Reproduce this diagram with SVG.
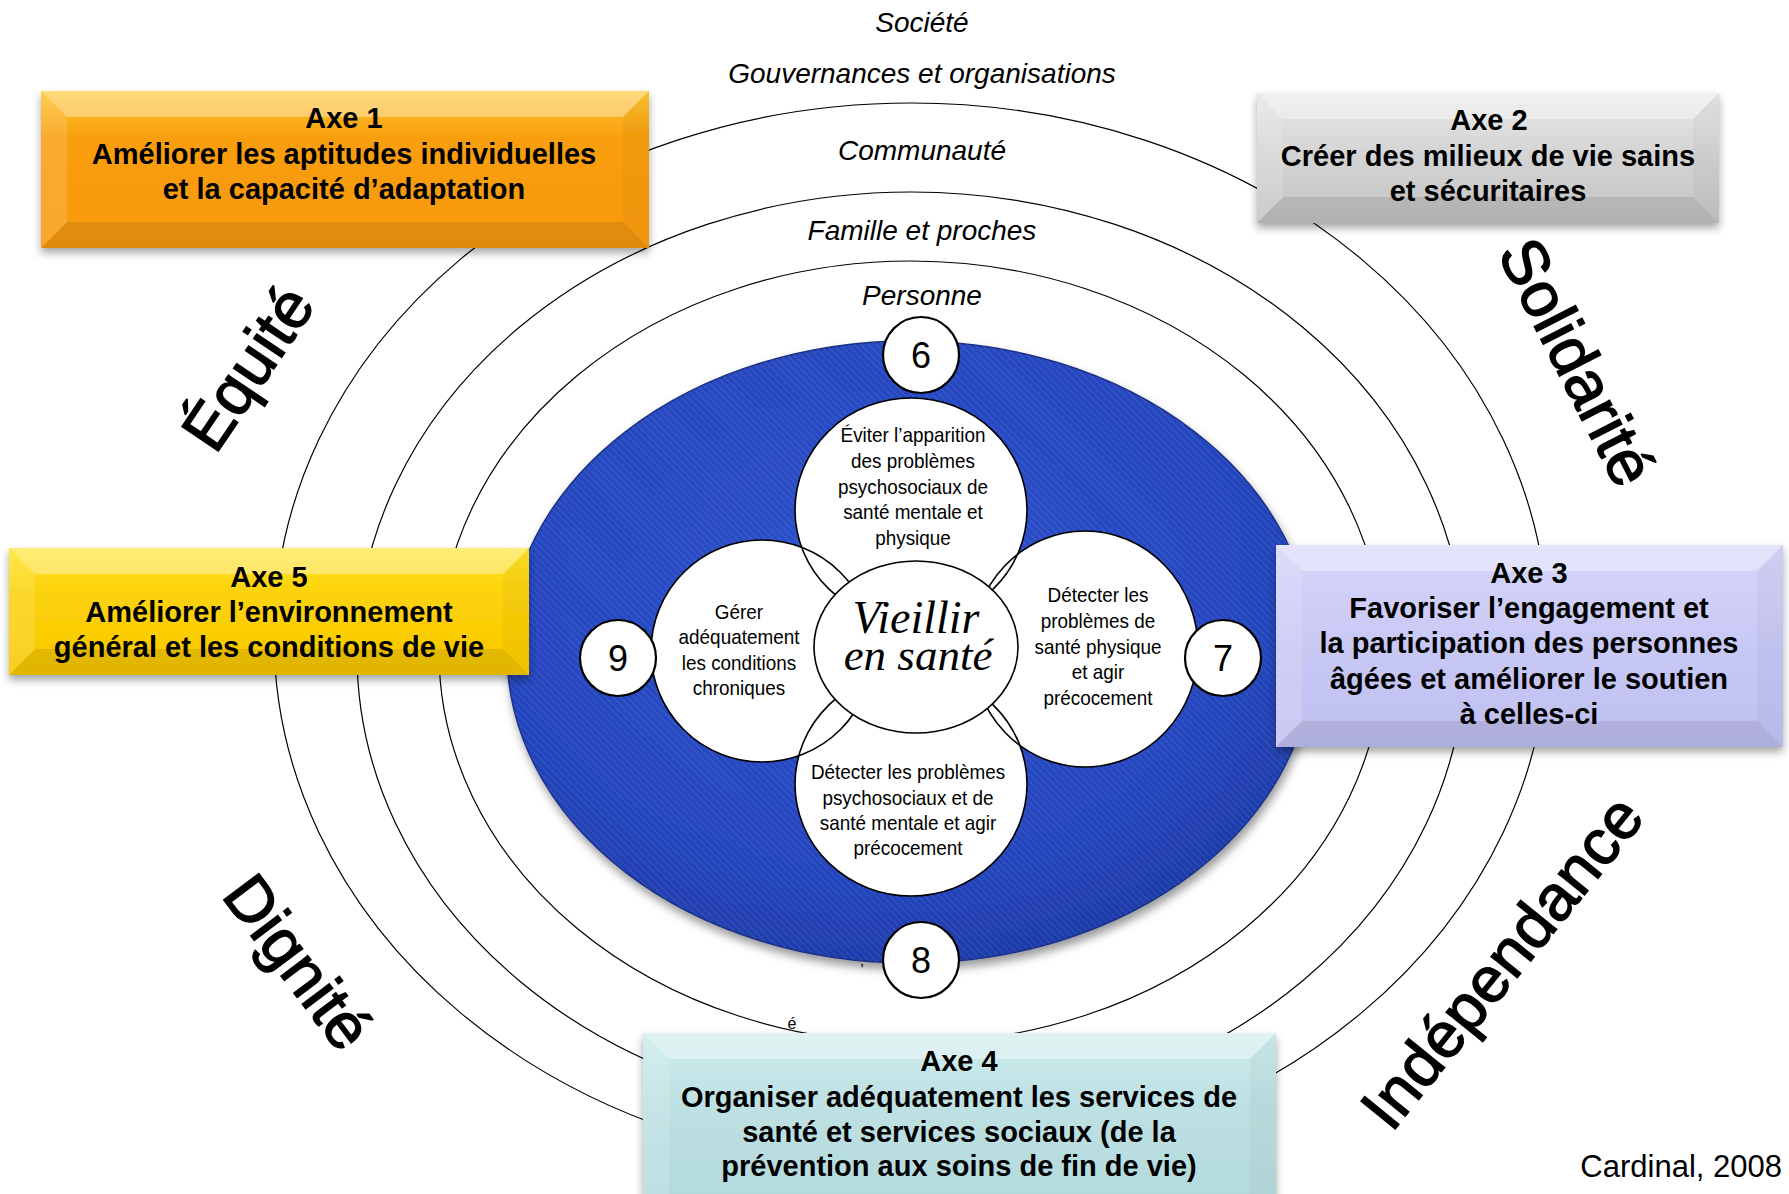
<svg xmlns="http://www.w3.org/2000/svg" width="1789" height="1194" viewBox="0 0 1789 1194">
<defs>
<style>
.ring{fill:none;stroke:#000;stroke-width:1.2}
.axe{font-family:"Liberation Sans",Arial,sans-serif;font-weight:bold;font-size:29px;text-anchor:middle;fill:#000}
.lvl{font-family:"Liberation Sans",Arial,sans-serif;font-style:italic;font-size:28px;text-anchor:middle;fill:#000}
.pt{font-family:"Liberation Sans",Arial,sans-serif;font-size:21px;text-anchor:middle;fill:#000}
.num{font-family:"Liberation Sans",Arial,sans-serif;font-size:36px;text-anchor:middle;fill:#000}
.big{font-family:"Liberation Sans",Arial,sans-serif;font-size:64px;text-anchor:middle;fill:#000;stroke:#000;stroke-width:1.4}
.petal{fill:#fff}
.pstroke{fill:none;stroke:#000;stroke-width:1.6}
.ncirc{fill:#fff;stroke:#000;stroke-width:2.2}
.bt{fill:#fff;opacity:.35}
.bl{fill:#fff;opacity:.14}
.br{fill:#000;opacity:.03}
.bb{fill:#000;opacity:.09}
</style>
<filter id="shadow" x="-5%" y="-10%" width="110%" height="140%"><feDropShadow dx="0" dy="5" stdDeviation="4" flood-color="#000" flood-opacity="0.35"/></filter>
<filter id="bshadow" x="-10%" y="-10%" width="120%" height="125%"><feDropShadow dx="2" dy="6" stdDeviation="5" flood-color="#000" flood-opacity="0.4"/></filter>
<pattern id="stripes" width="5" height="5" patternUnits="userSpaceOnUse" patternTransform="rotate(-45)"><line x1="0" y1="0" x2="0" y2="5" stroke="#ffffff" stroke-opacity="0.12" stroke-width="1.5"/></pattern>
<radialGradient id="blueGrad" cx="0.45" cy="0.38" r="0.65"><stop offset="0" stop-color="#2d52cc"/><stop offset="0.75" stop-color="#2445bd"/><stop offset="1" stop-color="#1d3ba6"/></radialGradient>
<linearGradient id="g1" x1="0" y1="0" x2="0" y2="1"><stop offset="0" stop-color="#FEC634"/><stop offset="0.3" stop-color="#F99E0E"/><stop offset="1" stop-color="#F7990B"/></linearGradient>
<linearGradient id="g2" x1="0" y1="0" x2="0" y2="1"><stop offset="0" stop-color="#E8E8E8"/><stop offset="0.5" stop-color="#D3D3D3"/><stop offset="1" stop-color="#C3C3C3"/></linearGradient>
<linearGradient id="g3" x1="0" y1="0" x2="0" y2="1"><stop offset="0" stop-color="#D6D6FA"/><stop offset="0.5" stop-color="#C8C8F5"/><stop offset="1" stop-color="#C0C0F0"/></linearGradient>
<linearGradient id="g4" x1="0" y1="0" x2="0" y2="1"><stop offset="0" stop-color="#CFECED"/><stop offset="0.4" stop-color="#BEE1E3"/><stop offset="1" stop-color="#B3D9DC"/></linearGradient>
<linearGradient id="g5" x1="0" y1="0" x2="0" y2="1"><stop offset="0" stop-color="#FFE42C"/><stop offset="0.35" stop-color="#FCD20A"/><stop offset="1" stop-color="#F8C800"/></linearGradient>
</defs>
<rect width="1789" height="1194" fill="#fff"/>

<g id="rings">
<ellipse class="ring" cx="911" cy="636" rx="637" ry="533"/>
<ellipse class="ring" cx="911" cy="654" rx="554" ry="462"/>
<ellipse class="ring" cx="911" cy="652" rx="472" ry="391"/>
</g>
<g id="connectors"/>

<g id="levels">
<text class="lvl" x="922" y="32">Société</text>
<text class="lvl" x="922" y="83">Gouvernances et organisations</text>
<text class="lvl" x="922" y="160">Communauté</text>
<text class="lvl" x="922" y="240">Famille et proches</text>
<text class="lvl" x="922" y="305">Personne</text>
</g>

<g id="core">
<ellipse cx="910" cy="652" rx="403" ry="311" fill="url(#blueGrad)" stroke="#1a2f85" stroke-width="1.5" filter="url(#bshadow)"/>
<ellipse cx="910" cy="652" rx="403" ry="311" fill="url(#stripes)"/>
</g>

<g id="flower">
<ellipse class="petal" cx="911" cy="510" rx="116" ry="112"/>
<ellipse class="petal" cx="911" cy="784" rx="116" ry="112"/>
<ellipse class="petal" cx="762" cy="651" rx="111" ry="111"/>
<ellipse class="petal" cx="1085" cy="649" rx="113" ry="118"/>
<ellipse class="pstroke" cx="911" cy="510" rx="116" ry="112"/>
<ellipse class="pstroke" cx="911" cy="784" rx="116" ry="112"/>
<ellipse class="pstroke" cx="762" cy="651" rx="111" ry="111"/>
<ellipse class="pstroke" cx="1085" cy="649" rx="113" ry="118"/>
</g>

<g id="petal-top" transform="translate(913,0) scale(0.9,1)">
<text class="pt" x="0" y="442">Éviter l’apparition</text>
<text class="pt" x="0" y="468">des problèmes</text>
<text class="pt" x="0" y="494">psychosociaux de</text>
<text class="pt" x="0" y="519">santé mentale et</text>
<text class="pt" x="0" y="545">physique</text>
</g>
<g id="petal-right" transform="translate(1098,0) scale(0.9,1)">
<text class="pt" x="0" y="602">Détecter les</text>
<text class="pt" x="0" y="628">problèmes de</text>
<text class="pt" x="0" y="654">santé physique</text>
<text class="pt" x="0" y="679">et agir</text>
<text class="pt" x="0" y="705">précocement</text>
</g>
<g id="petal-left" transform="translate(739,0) scale(0.9,1)">
<text class="pt" x="0" y="619">Gérer</text>
<text class="pt" x="0" y="644">adéquatement</text>
<text class="pt" x="0" y="670">les conditions</text>
<text class="pt" x="0" y="695">chroniques</text>
</g>
<g id="petal-bottom" transform="translate(908,0) scale(0.9,1)">
<text class="pt" x="0" y="779">Détecter les problèmes</text>
<text class="pt" x="0" y="805">psychosociaux et de</text>
<text class="pt" x="0" y="830">santé mentale et agir</text>
<text class="pt" x="0" y="855">précocement</text>
</g>

<g id="center">
<ellipse cx="916" cy="647" rx="102" ry="86" fill="#fff" stroke="#000" stroke-width="1.6"/>
<text x="916" y="633" font-family="'Liberation Serif',serif" font-style="italic" font-size="46" text-anchor="middle">Vieillir</text>
<text x="918" y="670" font-family="'Liberation Serif',serif" font-style="italic" font-size="45" text-anchor="middle">en santé</text>
</g>

<g id="n6"><circle class="ncirc" cx="921" cy="355" r="38"/><text class="num" x="921" y="368">6</text></g>
<g id="n7"><circle class="ncirc" cx="1223" cy="658" r="38"/><text class="num" x="1223" y="671">7</text></g>
<g id="n8"><circle class="ncirc" cx="921" cy="960" r="38"/><text class="num" x="921" y="973">8</text></g>
<g id="n9"><circle class="ncirc" cx="618" cy="658" r="38"/><text class="num" x="618" y="671">9</text></g>

<g id="axe1" filter="url(#shadow)">
<rect x="41" y="91" width="608" height="157" fill="url(#g1)"/>
<polygon class="bt" points="41,91 649,91 623,117 67,117"/>
<polygon class="bl" points="41,91 67,117 67,222 41,248"/>
<polygon class="br" points="649,91 649,248 623,222 623,117"/>
<polygon class="bb" points="41,248 67,222 623,222 649,248"/>
</g>
<g id="axe1-text">
<text class="axe" x="344" y="128">Axe 1</text>
<text class="axe" x="344" y="164">Améliorer les aptitudes individuelles</text>
<text class="axe" x="344" y="199">et la capacité d’adaptation</text>
</g>

<g id="axe2" filter="url(#shadow)">
<rect x="1257" y="93" width="462" height="130" fill="url(#g2)"/>
<polygon class="bt" points="1257,93 1719,93 1693,119 1283,119"/>
<polygon class="bl" points="1257,93 1283,119 1283,197 1257,223"/>
<polygon class="br" points="1719,93 1719,223 1693,197 1693,119"/>
<polygon class="bb" points="1257,223 1283,197 1693,197 1719,223"/>
</g>
<g id="axe2-text">
<text class="axe" x="1489" y="130">Axe 2</text>
<text class="axe" x="1488" y="166">Créer des milieux de vie sains</text>
<text class="axe" x="1488" y="201">et sécuritaires</text>
</g>

<g id="axe3" filter="url(#shadow)">
<rect x="1276" y="545" width="507" height="202" fill="url(#g3)"/>
<polygon class="bt" points="1276,545 1783,545 1757,571 1302,571"/>
<polygon class="bl" points="1276,545 1302,571 1302,721 1276,747"/>
<polygon class="br" points="1783,545 1783,747 1757,721 1757,571"/>
<polygon class="bb" points="1276,747 1302,721 1757,721 1783,747"/>
</g>
<g id="axe3-text">
<text class="axe" x="1529" y="583">Axe 3</text>
<text class="axe" x="1529" y="618">Favoriser l’engagement et</text>
<text class="axe" x="1529" y="653">la participation des personnes</text>
<text class="axe" x="1529" y="689">âgées et améliorer le soutien</text>
<text class="axe" x="1529" y="724">à celles-ci</text>
</g>

<g id="axe4" filter="url(#shadow)">
<rect x="643" y="1033" width="633" height="175" fill="url(#g4)"/>
<polygon class="bt" points="643,1033 1276,1033 1250,1059 669,1059"/>
<polygon class="bl" points="643,1033 669,1059 669,1208 643,1208"/>
<polygon class="br" points="1276,1033 1276,1208 1250,1208 1250,1059"/>
</g>
<g id="axe4-text">
<text class="axe" x="959" y="1071">Axe 4</text>
<text class="axe" x="959" y="1107">Organiser adéquatement les services de</text>
<text class="axe" x="959" y="1142">santé et services sociaux (de la</text>
<text class="axe" x="959" y="1176">prévention aux soins de fin de vie)</text>
</g>

<g id="axe5" filter="url(#shadow)">
<rect x="9" y="548" width="520" height="127" fill="url(#g5)"/>
<polygon class="bt" points="9,548 529,548 503,574 35,574"/>
<polygon class="bl" points="9,548 35,574 35,649 9,675"/>
<polygon class="br" points="529,548 529,675 503,649 503,574"/>
<polygon class="bb" points="9,675 35,649 503,649 529,675"/>
</g>
<g id="axe5-text">
<text class="axe" x="269" y="587">Axe 5</text>
<text class="axe" x="269" y="622">Améliorer l’environnement</text>
<text class="axe" x="269" y="657">général et les conditions de vie</text>
</g>

<g id="values">
<text class="big" transform="translate(248,368) rotate(-56)" y="22">Équité</text>
<text class="big" transform="translate(1577,362) rotate(63)" y="22">Solidarité</text>
<text class="big" transform="translate(298,962) rotate(53)" y="22">Dignité</text>
<text class="big" transform="translate(1502,962) rotate(-51)" y="22">Indépendance</text>
</g>

<g id="misc">
<text x="792" y="1029" font-family="'Liberation Sans',Arial,sans-serif" font-size="16" text-anchor="middle">é</text>
<text x="862" y="976" font-family="'Liberation Sans',Arial,sans-serif" font-size="16" text-anchor="middle">’</text>
<text x="1782" y="1177" font-family="'Liberation Sans',Arial,sans-serif" font-size="31" text-anchor="end">Cardinal, 2008</text>
</g>
</svg>
